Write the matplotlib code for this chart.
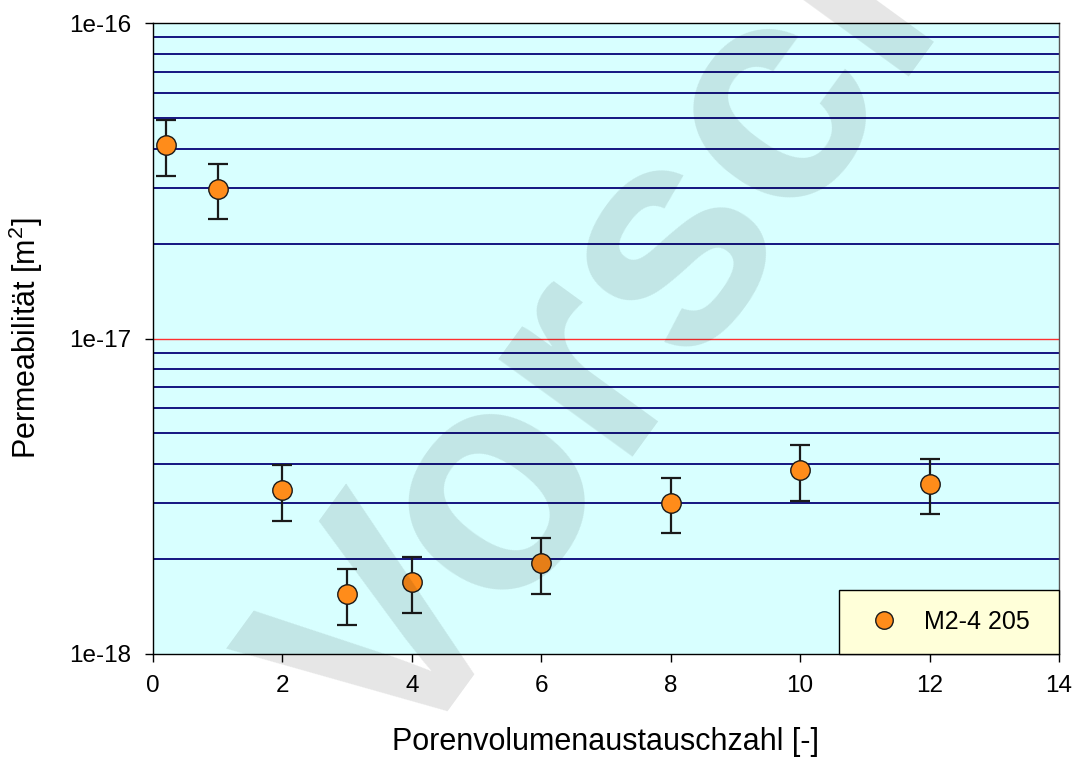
import matplotlib
matplotlib.use("Agg")
import matplotlib.pyplot as plt
import numpy as np
from matplotlib.ticker import FixedLocator, NullLocator

plt.rcParams['font.family'] = ['Liberation Sans', 'DejaVu Sans']
plt.rcParams['mathtext.fontset'] = 'custom'
plt.rcParams['mathtext.rm'] = 'Liberation Sans'

# Measurements: pore-volume exchange number vs. permeability
exchange = [0.2, 1, 2, 3, 4, 6, 8, 10, 12]
permeability = [4.1e-17, 2.98e-17, 3.30e-18, 1.55e-18, 1.69e-18,
                1.94e-18, 3.02e-18, 3.82e-18, 3.47e-18]
rel_error = 0.2
series_label = "M2-4 205"

y_ticks = [1e-18, 1e-17, 1e-16]
y_tick_labels = ["1e-18", "1e-17", "1e-16"]
x_ticks = [0, 2, 4, 6, 8, 10, 12, 14]

fig = plt.figure(figsize=(10.75, 7.6), dpi=100)
ax = fig.add_axes([0.1423, 0.1395, 0.8428, 0.8302])
ax.set_facecolor('#D8FFFF')
ax.set_yscale('log')
ax.set_xlim(0, 14)
ax.set_ylim(1e-18, 1e-16)

# horizontal grid at every log step, the decade line in red
for dec in [1e-18, 1e-17]:
    for m in range(2, 10):
        ax.axhline(m * dec, color='#141480', lw=1.4, zorder=1)
ax.axhline(1e-17, color='#FF3030', lw=1.0, zorder=1)

vals = np.array(permeability)
ax.errorbar(exchange, vals, yerr=rel_error * vals, fmt='none',
            ecolor='#1A1A1A', elinewidth=1.6, capsize=7, capthick=1.6, zorder=3)
ax.plot(exchange, vals, 'o', ms=14, mfc='#FF8C1A', mec='#1A1A1A', mew=1.0,
        zorder=4, label=series_label)

ax.yaxis.set_major_locator(FixedLocator(y_ticks))
ax.yaxis.set_minor_locator(NullLocator())
ax.set_yticklabels(y_tick_labels)
ax.set_xticks(x_ticks)
ax.tick_params(axis='both', direction='out', length=6, width=1.0,
               labelsize=17.5, colors='black')
ax.tick_params(axis='x', pad=9)
ax.tick_params(axis='y', pad=10)

for s in ['left', 'bottom', 'top']:
    ax.spines[s].set_color('black')
    ax.spines[s].set_linewidth(1.0)
ax.spines['right'].set_color('#555555')
ax.spines['right'].set_linewidth(1.0)

ax.set_xlabel('Porenvolumenaustauschzahl [-]', fontsize=22, labelpad=22)
ax.set_ylabel('Permeabilität [m$^2$]', fontsize=22, labelpad=17)

leg = ax.legend(loc='lower left', bbox_to_anchor=(0.757, 0.0, 0.243, 0.1),
                mode='expand', borderaxespad=0, fancybox=False,
                facecolor='#FFFFD9', edgecolor='black', framealpha=1,
                fontsize=18, markerscale=0.9, borderpad=0.8,
                handletextpad=0.6, handlelength=2.0)
leg.get_frame().set_linewidth(1.0)
leg.set_zorder(5)

# preview watermark
fig.text(0.372, -0.02, 'Vorschau', fontsize=225, fontweight='bold',
         rotation=54, rotation_mode='anchor', color='black', alpha=0.1,
         ha='left', va='baseline', zorder=10)

fig.savefig('out.png', dpi=100)
